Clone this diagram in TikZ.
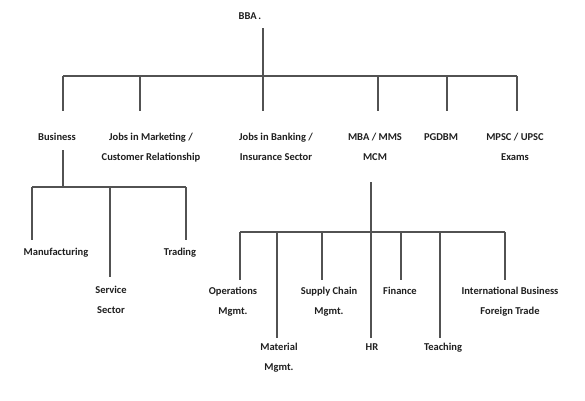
\documentclass[tikz,border=0pt]{standalone}
\usepackage{fontspec}
\setmainfont{Carlito}
\newcommand\lineup{\rule{0pt}{8pt}}
\begin{document}
\begin{tikzpicture}[x=1pt,y=-1pt,
  lbl/.style={font=\bfseries\fontsize{10.5}{19.5}\selectfont, align=center, anchor=north, inner sep=0pt, text=black!88},
  conn/.style={draw=black!68, line width=1.1pt}]
\useasboundingbox[fill=white] (0,0) rectangle (585,400);
% nodes
\node[lbl] (bba)  at (250,11.5) {\lineup BBA\,.};
\node[lbl] (bus)  at (57,132.5)  {\lineup Business};
\node[lbl] (mkt)  at (151,132.5) {\lineup Jobs in Marketing /\\Customer Relationship};
\node[lbl] (bank) at (276,132.5) {\lineup Jobs in Banking /\\Insurance Sector};
\node[lbl] (mba)  at (375,132.5) {\lineup MBA / MMS\\MCM};
\node[lbl] (pgd)  at (441,132.5) {\lineup PGDBM};
\node[lbl] (mpsc) at (515,132.5) {\lineup MPSC / UPSC\\Exams};
\node[lbl] (manu) at (56,247.5)  {\lineup Manufacturing};
\node[lbl] (serv) at (111,285.5) {\lineup Service\\Sector};
\node[lbl] (trad) at (180,247.5) {\lineup Trading};
\node[lbl] (ops)  at (233,286.5) {\lineup Operations\\Mgmt.};
\node[lbl] (mat)  at (279,342.5) {\lineup Material\\Mgmt.};
\node[lbl] (scm)  at (329,286.5) {\lineup Supply Chain\\Mgmt.};
\node[lbl] (hr)   at (372,342.5) {\lineup HR};
\node[lbl] (fin)  at (400,286.5) {\lineup Finance};
\node[lbl] (tea)  at (443,342.5) {\lineup Teaching};
\node[lbl] (ibf)  at (510,286.5) {\lineup International Business\\Foreign Trade};
% top level
\coordinate (bbaTop) at (263,28);
\coordinate (barL) at (63,76);
\coordinate (barR) at (517,76);
\coordinate (dBus) at (63,111);
\coordinate (dMkt) at (140,111);
\coordinate (dBank) at (263,111);
\coordinate (dMba) at (378,111);
\coordinate (dPgd) at (447,111);
\coordinate (dMpsc) at (517,111);
\draw[conn] (barL) -- (barR);
\draw[conn] (bbaTop) -- (dBank);
\foreach \c in {dBus,dMkt,dMba,dPgd,dMpsc} \draw[conn] (\c |- barL) -- (\c);
% business
\coordinate (busS) at (63,150);
\coordinate (sbL) at (32,187);
\coordinate (sbR) at (186,187);
\coordinate (dManu) at (32,240);
\coordinate (dServ) at (110,277);
\coordinate (dTrad) at (186,240);
\draw[conn] (busS) -- (busS |- sbL);
\draw[conn] (sbL) -- (sbR);
\foreach \c in {dManu,dServ,dTrad} \draw[conn] (\c |- sbL) -- (\c);
% MBA
\coordinate (mbaS) at (371,182);
\coordinate (mbL) at (240,232);
\coordinate (mbR) at (505,232);
\coordinate (dOps) at (240,280);
\coordinate (dMat) at (277,338);
\coordinate (dScm) at (322,280);
\coordinate (dHr) at (371,338);
\coordinate (dFin) at (401,280);
\coordinate (dTea) at (440,338);
\coordinate (dIbf) at (505,280);
\draw[conn] (mbaS) -- (dHr);
\draw[conn] (mbL) -- (mbR);
\foreach \c in {dOps,dMat,dScm,dFin,dTea,dIbf} \draw[conn] (\c |- mbL) -- (\c);
\end{tikzpicture}
\end{document}
